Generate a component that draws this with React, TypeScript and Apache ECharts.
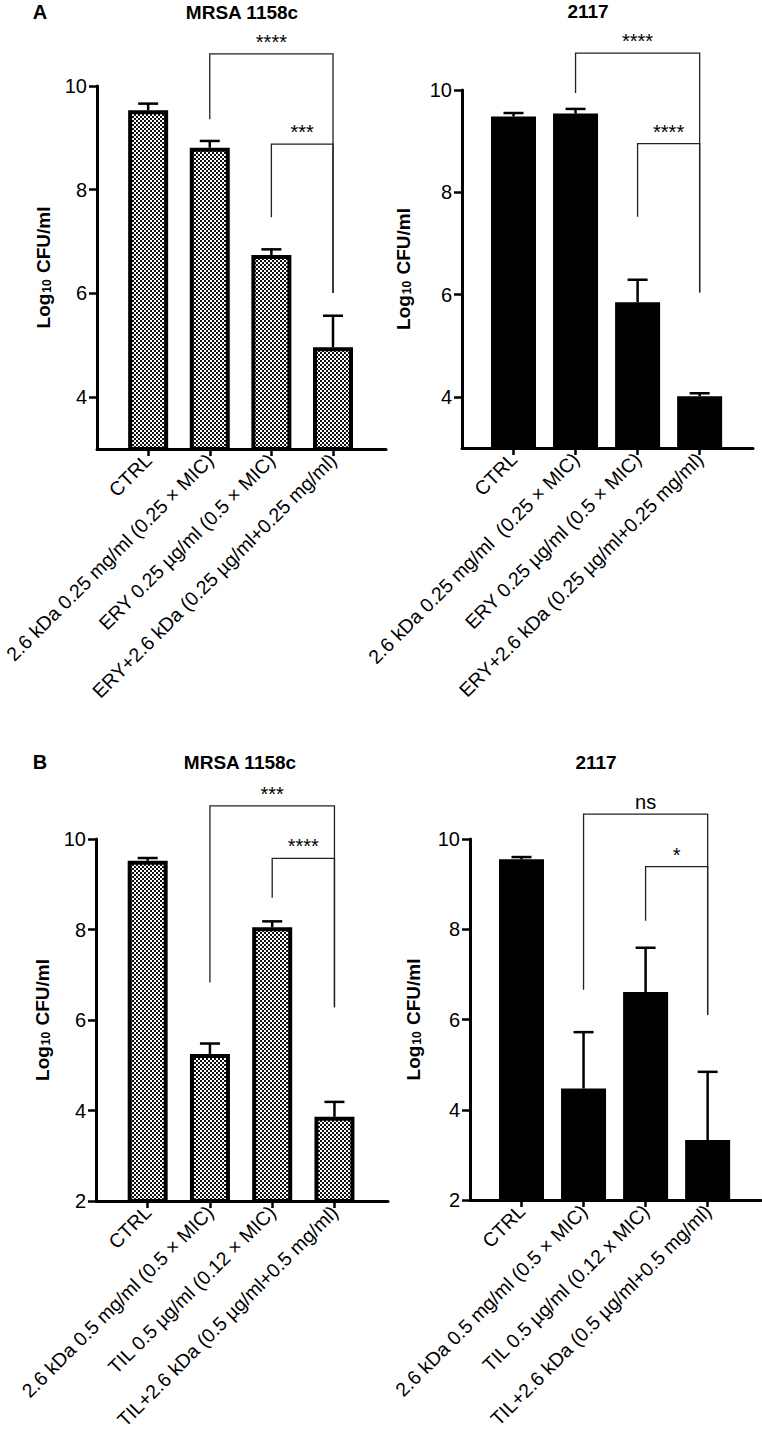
import React, { useEffect, useRef } from "react";
import * as echarts from "echarts";

const FONT = "Arial, 'Liberation Sans', Helvetica, sans-serif";

// ---------- data ----------
const catsAMrsa = ["CTRL", "2.6 kDa 0.25 mg/ml (0.25 × MIC)", "ERY 0.25 µg/ml (0.5 × MIC)", "ERY+2.6 kDa (0.25 µg/ml+0.25 mg/ml)"];
const catsA2117 = ["CTRL", "2.6 kDa 0.25 mg/ml  (0.25 × MIC)", "ERY 0.25 µg/ml (0.5 × MIC)", "ERY+2.6 kDa (0.25 µg/ml+0.25 mg/ml)"];
const catsBMrsa = ["CTRL", "2.6 kDa 0.5 mg/ml (0.5 × MIC)", "TIL 0.5 µg/ml (0.12 × MIC)", "TIL+2.6 kDa (0.5 µg/ml+0.5 mg/ml)"];
const catsB2117 = ["CTRL", "2.6 kDa 0.5 mg/ml (0.5 × MIC)", "TIL 0.5 µg/ml (0.12 x MIC)", "TIL+2.6 kDa (0.5 µg/ml+0.5 mg/ml)"];

const meanAMrsa = [9.53, 8.81, 6.74, 4.96];
const semAMrsa = [0.13, 0.13, 0.11, 0.61];
const meanA2117 = [9.48, 9.54, 5.85, 4.01];
const semA2117 = [0.07, 0.09, 0.44, 0.06];
const meanBMrsa = [9.52, 5.25, 8.05, 3.86];
const semBMrsa = [0.06, 0.23, 0.13, 0.33];
const meanB2117 = [9.55, 4.47, 6.61, 3.33];
const semB2117 = [0.05, 1.25, 0.98, 1.51];

const yTicksA = [4, 6, 8, 10];
const yTicksB = [2, 4, 6, 8, 10];
const xTicks = [0, 1, 2, 3];

// brackets: [from, to, top, fromLegBottom, toLegBottom]
const brAMrsa = [[1, 3, 10.62, 9.36, 6.01], [2, 3, 8.88, 7.47, 6.01]];
const brLabAMrsa = ["****", "***"];
const brA2117 = [[1, 3, 10.72, 9.94, 6.04], [2, 3, 8.95, 7.52, 6.04]];
const brLabA2117 = ["****", "****"];
const brBMrsa = [[1, 3, 10.73, 6.83, 6.28], [2, 3, 9.57, 8.70, 6.28]];
const brLabBMrsa = ["***", "****"];
const brB2117 = [[1, 3, 10.55, 6.66, 6.10], [2, 3, 9.39, 8.19, 6.10]];
const brLabB2117 = ["ns", "*"];

const checkerSrc =
  "data:image/svg+xml;utf8," +
  encodeURIComponent(
    '<svg xmlns="http://www.w3.org/2000/svg" width="4" height="4"><rect width="4" height="4" fill="#fff"/><rect width="2" height="2" fill="#111"/><rect x="2" y="2" width="2" height="2" fill="#111"/></svg>'
  );

export default function App() {
  const ref = useRef<HTMLDivElement>(null);

  useEffect(() => {
    if (!ref.current) return;
    const chart = echarts.init(ref.current, undefined, { renderer: "svg" });

    const checker: any = { image: checkerSrc, repeat: "repeat", imageWidth: 4, imageHeight: 4 };

    const panels = [
      { cats: catsAMrsa, mean: meanAMrsa, sem: semAMrsa, br: brAMrsa, brLab: brLabAMrsa, ticks: yTicksA, ymin: 3, grid: { left: 97, top: 86, width: 289, height: 363 }, nameGap: 44, hatched: true, title: "MRSA 1158c", tx: 242, ty: 12 },
      { cats: catsA2117, mean: meanA2117, sem: semA2117, br: brA2117, brLab: brLabA2117, ticks: yTicksA, ymin: 3, grid: { left: 462, top: 90, width: 291, height: 358 }, nameGap: 49, hatched: false, title: "2117", tx: 588, ty: 11 },
      { cats: catsBMrsa, mean: meanBMrsa, sem: semBMrsa, br: brBMrsa, brLab: brLabBMrsa, ticks: yTicksB, ymin: 2, grid: { left: 96, top: 839, width: 292, height: 362 }, nameGap: 44, hatched: true, title: "MRSA 1158c", tx: 240, ty: 762 },
      { cats: catsB2117, mean: meanB2117, sem: semB2117, br: brB2117, brLab: brLabB2117, ticks: yTicksB, ymin: 2, grid: { left: 470, top: 839, width: 291, height: 361 }, nameGap: 47, hatched: false, title: "2117", tx: 596, ty: 762 },
    ];

    const grid: any[] = [];
    const xAxis: any[] = [];
    const yAxis: any[] = [];
    const series: any[] = [];
    const graphic: any[] = [];

    panels.forEach((p, i) => {
      grid.push({ ...p.grid, containLabel: false, outerBoundsMode: "none" });
      xAxis.push({
        gridIndex: i,
        type: "value",
        min: -0.83,
        max: 3.86,
        axisLine: { show: true, onZero: false, lineStyle: { color: "#000", width: 3 } },
        axisTick: { show: true, customValues: xTicks, length: 7, lineStyle: { color: "#000", width: 2.5 } },
        axisLabel: {
          show: true,
          customValues: xTicks,
          rotate: 45,
          margin: 8,
          color: "#000",
          fontSize: 19.5,
          fontFamily: FONT,
          formatter: (v: number) => p.cats[Math.round(v)] ?? "",
        },
        splitLine: { show: false },
      });
      yAxis.push({
        gridIndex: i,
        type: "value",
        min: p.ymin,
        max: 10,
        axisLine: { show: true, onZero: false, lineStyle: { color: "#000", width: 3 } },
        axisTick: { show: true, customValues: p.ticks, length: 8, lineStyle: { color: "#000", width: 2.5 } },
        axisLabel: { show: true, customValues: p.ticks, margin: 10, color: "#000", fontSize: 20, fontFamily: FONT },
        splitLine: { show: false },
        name: "{b|Log}{s|10}{b| CFU/ml}",
        nameLocation: "middle",
        nameGap: p.nameGap,
        nameTextStyle: {
          rich: {
            b: { fontSize: 19, fontWeight: "bold", fontFamily: FONT, color: "#000", verticalAlign: "bottom", lineHeight: 22 },
            s: { fontSize: 12, fontWeight: "bold", fontFamily: FONT, color: "#000", verticalAlign: "bottom", lineHeight: 10, padding: [0, 1, 0, 1] },
          },
        },
      });

      series.push({
        type: "bar",
        xAxisIndex: i,
        yAxisIndex: i,
        data: p.mean.map((m, k) => [k, m]),
        barWidth: p.hatched ? 40 : 45,
        clip: true,
        itemStyle: p.hatched
          ? { color: checker, borderColor: "#000", borderWidth: 4 }
          : { color: "#000", borderWidth: 0 },
        z: 3,
      });

      series.push({
        type: "custom",
        xAxisIndex: i,
        yAxisIndex: i,
        data: p.mean.map((m, k) => [k, m, p.sem[k]]),
        encode: { x: 0, y: 1 },
        z: 4,
        renderItem: (params: any, api: any) => {
          const x = api.value(0);
          const m = api.value(1);
          const s = api.value(2);
          const a = api.coord([x, m]);
          const b = api.coord([x, m + s]);
          const st = { stroke: "#000", lineWidth: 2.5 };
          return {
            type: "group",
            children: [
              { type: "line", shape: { x1: a[0], y1: a[1], x2: b[0], y2: b[1] }, style: st },
              { type: "line", shape: { x1: b[0] - 10, y1: b[1], x2: b[0] + 10, y2: b[1] }, style: st },
            ],
          };
        },
      });

      series.push({
        type: "custom",
        xAxisIndex: i,
        yAxisIndex: i,
        data: p.br,
        encode: { x: [0, 1], y: [2, 3, 4] },
        clip: false,
        z: 5,
        renderItem: (params: any, api: any) => {
          const x1 = api.value(0);
          const x2 = api.value(1);
          const yt = api.value(2);
          const yl = api.value(3);
          const yr = api.value(4);
          const pl = api.coord([x1, yl]);
          const plt = api.coord([x1, yt]);
          const prt = api.coord([x2, yt]);
          const pr = api.coord([x2, yr]);
          const label = p.brLab[params.dataIndex];
          return {
            type: "group",
            children: [
              {
                type: "polyline",
                shape: { points: [pl, plt, prt, pr] },
                style: { stroke: "#222", lineWidth: 1.3, fill: null },
              },
              {
                type: "text",
                style: {
                  text: label,
                  x: (plt[0] + prt[0]) / 2,
                  y: plt[1] - 2,
                  align: "center",
                  verticalAlign: "bottom",
                  textAlign: "center",
                  textVerticalAlign: "bottom",
                  font: `20px ${FONT}`,
                  fill: "#000",
                },
              },
            ],
          };
        },
      });

      graphic.push({
        type: "text",
        x: p.tx,
        y: p.ty,
        style: {
          text: p.title,
          font: `bold 19px ${FONT}`,
          fill: "#000",
          align: "center",
          verticalAlign: "middle",
          textAlign: "center",
          textVerticalAlign: "middle",
        },
      });
    });

    graphic.push(
      { type: "text", x: 40, y: 12, style: { text: "A", font: `bold 20px ${FONT}`, fill: "#000", align: "center", verticalAlign: "middle", textAlign: "center", textVerticalAlign: "middle" } },
      { type: "text", x: 40, y: 762, style: { text: "B", font: `bold 20px ${FONT}`, fill: "#000", align: "center", verticalAlign: "middle", textAlign: "center", textVerticalAlign: "middle" } }
    );

    chart.setOption({
      animation: false,
      backgroundColor: "#fff",
      textStyle: { fontFamily: FONT },
      grid,
      xAxis,
      yAxis,
      series,
      graphic,
    });

    return () => chart.dispose();
  }, []);

  return (
    <div
      ref={ref}
      style={{ position: "absolute", left: 0, top: 0, width: 762, height: 1447 }}
    />
  );
}
